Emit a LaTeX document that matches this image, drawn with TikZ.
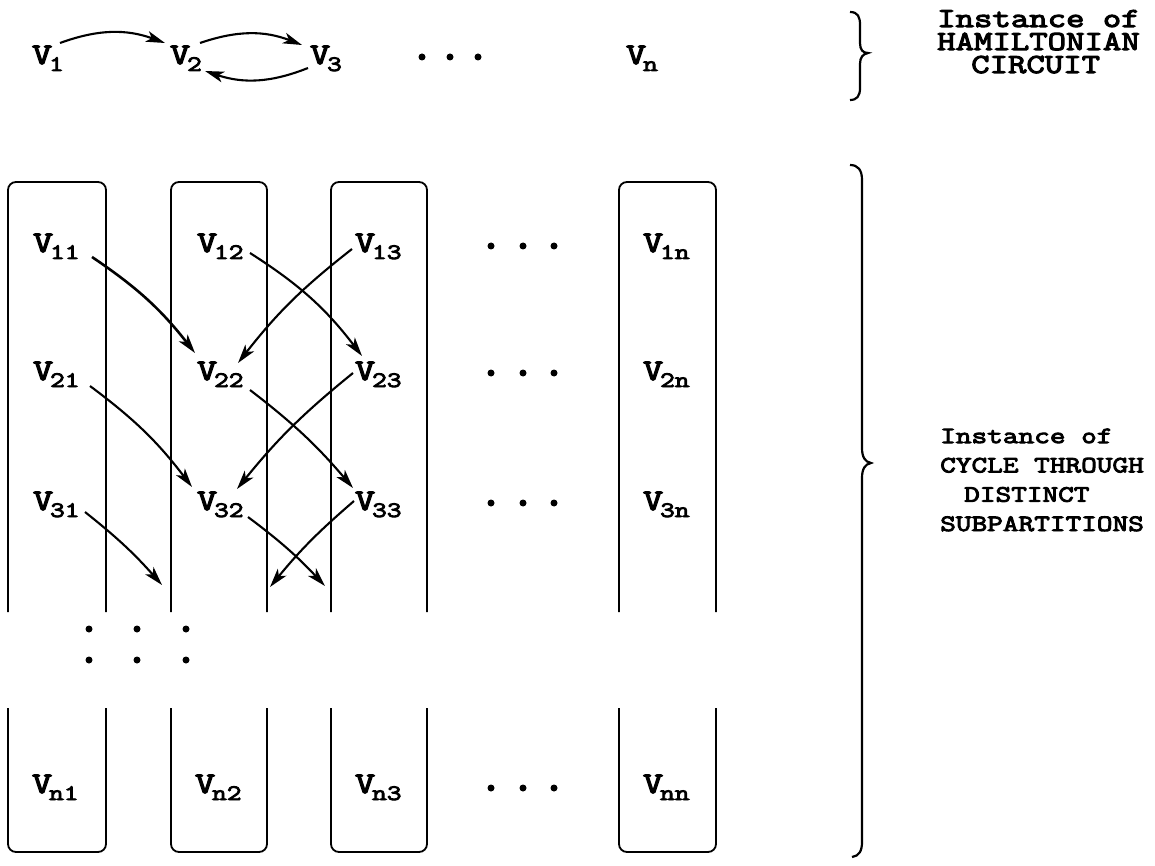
\documentclass[tikz,border=0pt]{standalone}
\usepackage{fontspec}
\newfontfamily\tw[FakeStretch=1.3,FakeBold=4]{Latin Modern Mono}
\usetikzlibrary{arrows.meta}
\newcommand{\vx}[1]{{\fontsize{30}{30}\selectfont V}\kern-3pt\raisebox{-7pt}{\fontsize{22}{22}\selectfont #1}}
\begin{document}
\begin{tikzpicture}[x=1pt,y=-1pt,
  vtx/.style={inner sep=0pt, outer sep=0pt, anchor=base west, font=\tw},
  arr/.style={line width=2.1pt, -{Stealth[length=19pt,width=11pt,inset=5pt]}},
  col/.style={line width=1.8pt, rounded corners=8pt},
  dot/.style={circle, fill, inner sep=0pt, minimum size=7pt},
  brc/.style={line width=2.2pt},
  labA/.style={anchor=base west, inner sep=0pt, align=left, font=\tw\fontsize{27.5}{23}\selectfont},
  labB/.style={anchor=base west, inner sep=0pt, align=left, font=\tw\fontsize{23.4}{29.3}\selectfont},
]
\useasboundingbox (0,0) rectangle (1155,866);

% ---------- top row: instance of Hamiltonian circuit ----------
\node[vtx] (v1) at (32,64) {\vx{1}};
\node[vtx] (v2) at (170,64) {\vx{2}};
\node[vtx] (v3) at (310,64) {\vx{3}};
\node[vtx] (vn) at (626,64) {\vx{n}};
\node[dot] (t1) at (422,57) {};
\node[dot] (t2) at (450,57) {};
\node[dot] (t3) at (478,57) {};

\draw[arr] ([shift={(28,-21)}]v1.base west) to[bend left=20] ([shift={(-5,-21)}]v2.base west);
\draw[arr] ([shift={(30,-21)}]v2.base west) to[bend left=20] ([shift={(-8,-19)}]v3.base west);
\draw[arr] ([shift={(-2,4)}]v3.base west) to[bend left=20] ([shift={(35,7)}]v2.base west);

\draw[brc] (850,12) .. controls (858,12) and (860,17) .. (860,25) -- (860,43)
  .. controls (860,50) and (863,53) .. (868,53)
  .. controls (863,54) and (860,57) .. (860,64) -- (860,88)
  .. controls (860,96) and (857,100) .. (850,100);
\node[labA] (h) at (937,73) {Instance of\\HAMILTONIAN\\\hspace*{34pt}CIRCUIT};

% ---------- columns ----------
\foreach \a/\b in {8/106, 171/267, 331/427, 619/716}{
  \draw[col] (\a,612) -- (\a,182) -- (\b,182) -- (\b,612);
  \draw[col] (\a,708) -- (\a,852) -- (\b,852) -- (\b,708);
}

% ---------- vertices ----------
\node[vtx] (v11) at (33,252) {\vx{11}};
\node[vtx] (v12) at (197,252) {\vx{12}};
\node[vtx] (v13) at (355,252) {\vx{13}};
\node[vtx] (v1n) at (643,252) {\vx{1n}};
\node[vtx] (v21) at (33,380) {\vx{21}};
\node[vtx] (v22) at (197,380) {\vx{22}};
\node[vtx] (v23) at (355,380) {\vx{23}};
\node[vtx] (v2n) at (643,380) {\vx{2n}};
\node[vtx] (v31) at (33,510) {\vx{31}};
\node[vtx] (v32) at (197,510) {\vx{32}};
\node[vtx] (v33) at (355,510) {\vx{33}};
\node[vtx] (v3n) at (643,510) {\vx{3n}};
\node[vtx] (vn1) at (32,793) {\vx{n1}};
\node[vtx] (vn2) at (195,793) {\vx{n2}};
\node[vtx] (vn3) at (355,793) {\vx{n3}};
\node[vtx] (vnn) at (643,793) {\vx{nn}};

% horizontal ellipses
\foreach \r/\y in {a/246, b/373, c/503, d/788}{
  \node[dot] (\r1) at (491,\y) {};
  \node[dot] (\r2) at (523,\y) {};
  \node[dot] (\r3) at (554,\y) {};
}
% vertical ellipses
\foreach \i/\x in {1/89, 2/137, 3/186}{
  \node[dot] (u\i) at (\x,629) {};
  \node[dot] (w\i) at (\x,660) {};
}

% ---------- arcs ----------
\coordinate (e1) at (162,585);
\coordinate (e2) at (325,586);
\coordinate (e3) at (270,587);

\draw[arr, line width=2.6pt] ([shift={(59,5)}]v11.base west) to[bend left=9] ([shift={(-2,-27)}]v22.base west);
\draw[arr] ([shift={(53,1)}]v12.base west) to[bend left=10] ([shift={(7,-24)}]v23.base west);
\draw[arr] ([shift={(-3,-3)}]v13.base west) to[bend right=7] ([shift={(41,-17)}]v22.base west);
\draw[arr] ([shift={(57,6)}]v21.base west) to[bend left=8] ([shift={(-5,-23)}]v32.base west);
\draw[arr] ([shift={(53,10)}]v22.base west) to[bend left=6] ([shift={(-2,-22)}]v33.base west);
\draw[arr] ([shift={(-2,-7)}]v23.base west) to[bend right=6] ([shift={(40,-21)}]v32.base west);
\draw[arr] ([shift={(52,2)}]v31.base west) to[bend left=5] (e1);
\draw[arr] ([shift={(51,7)}]v32.base west) to[bend left=5] (e2);
\draw[arr] ([shift={(-1,-9)}]v33.base west) to[bend right=5] (e3);

% ---------- big brace and label ----------
\draw[brc] (850,165) .. controls (858,165) and (862,170) .. (862,180) -- (862,448)
  .. controls (862,457) and (865,462) .. (871,463)
  .. controls (865,464) and (862,469) .. (862,478) -- (862,842)
  .. controls (862,851) and (859,856) .. (852,857);
\node[labB] (c) at (940,531) {Instance of\\CYCLE THROUGH\\\hspace*{24pt}DISTINCT\\SUBPARTITIONS};
\end{tikzpicture}
\end{document}
